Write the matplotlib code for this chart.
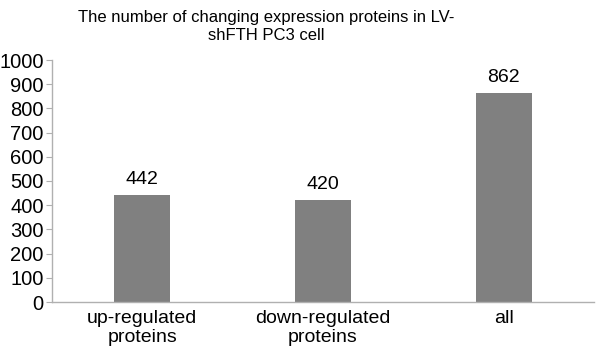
import matplotlib.pyplot as plt

# data
categories = ["up-regulated\nproteins", "down-regulated\nproteins", "all"]
counts = [442, 420, 862]
yticks = list(range(0, 1001, 100))

plt.rcParams["font.family"] = ["Liberation Sans", "DejaVu Sans"]

fig = plt.figure(figsize=(6.01, 3.54), dpi=100)
ax = fig.add_axes([52 / 601, 1 - 302 / 354, 542 / 601, 242 / 354])

x = range(len(categories))
bars = ax.bar(x, counts, width=0.31, color="#808080")

for xi, v in zip(x, counts):
    ax.annotate(str(v), (xi, v), xytext=(0, 5), textcoords="offset points",
                ha="center", va="bottom", fontsize=14)

ax.set_xlim(-0.5, len(categories) - 0.5)
ax.set_ylim(0, 1000)
ax.set_yticks(yticks)
ax.set_xticks(list(x))
ax.set_xticklabels(categories, fontsize=14, linespacing=1.1, multialignment="center")
ax.tick_params(axis="y", labelsize=14.5, length=4, color="#b0b0b0", pad=2)
ax.tick_params(axis="x", length=0, pad=6)

for s in ["top", "right"]:
    ax.spines[s].set_visible(False)
for s in ["left", "bottom"]:
    ax.spines[s].set_color("#b0b0b0")
    ax.spines[s].set_linewidth(1)

fig.text(266 / 601, 0.972, "The number of changing expression proteins in LV-\nshFTH PC3 cell",
         fontsize=12, ha="center", va="top", linespacing=1.25, multialignment="center")

fig.savefig("out.png", dpi=100)
